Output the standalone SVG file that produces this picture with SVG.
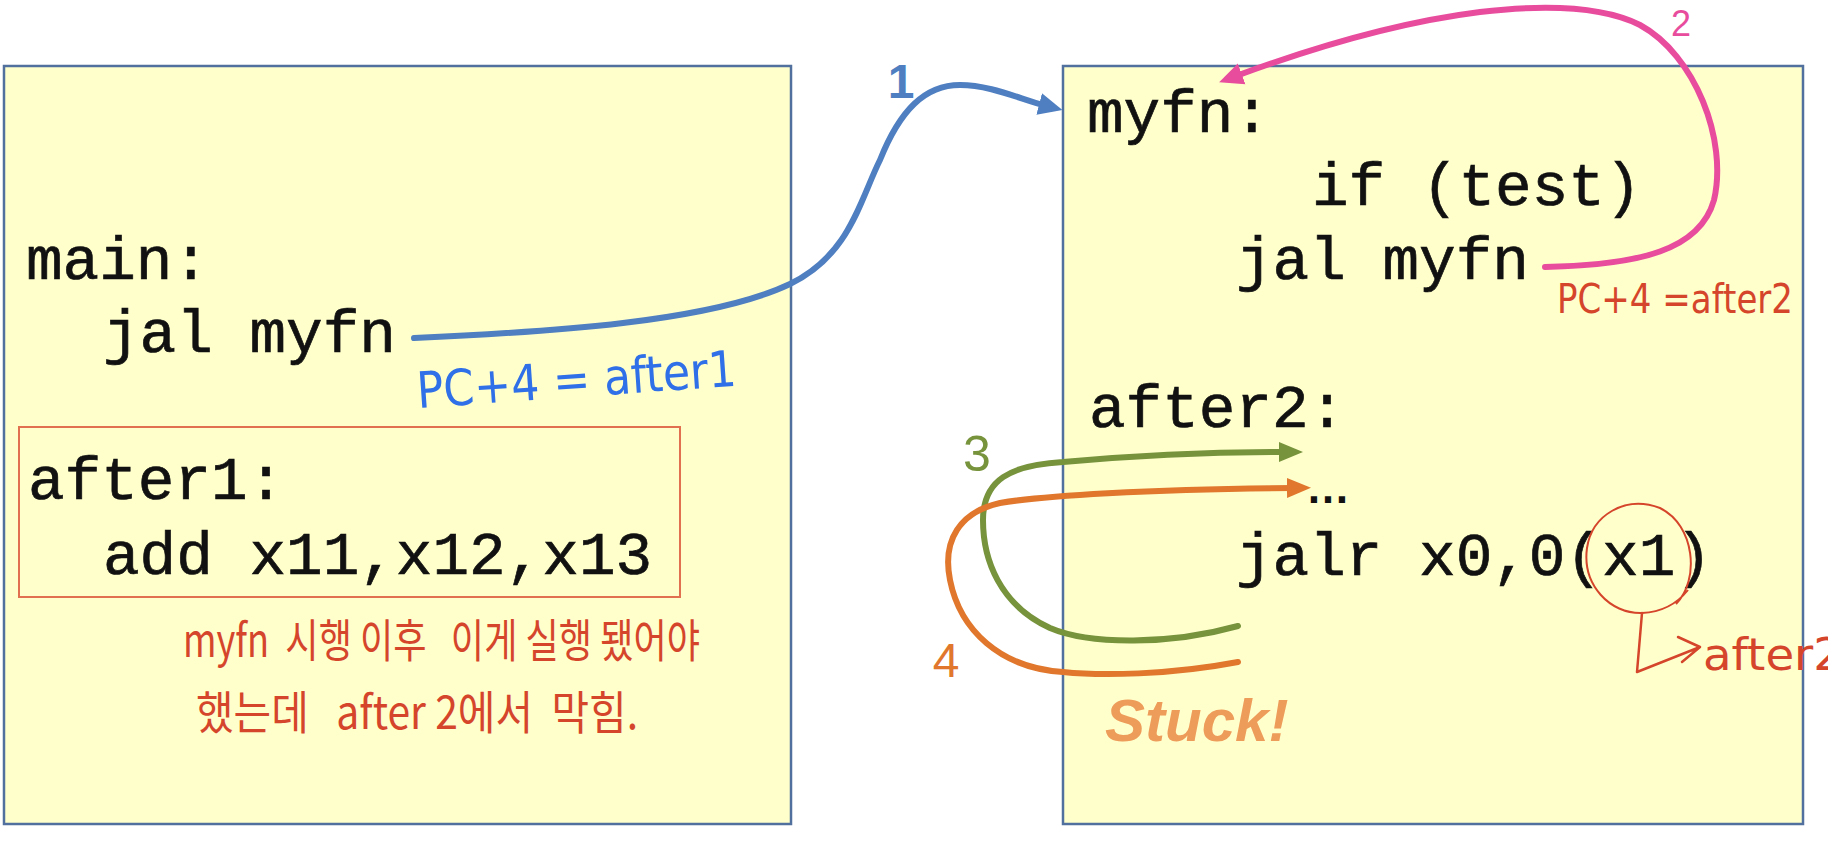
<svg xmlns="http://www.w3.org/2000/svg" width="1828" height="852" viewBox="0 0 1828 852">
<style>
.box{fill:#ffffcc;stroke:#52709e;stroke-width:2.5}
.code{font-family:"Liberation Mono","Courier New",monospace;font-size:61px;fill:#111;stroke:#111;stroke-width:0.7}
.conn{fill:none;stroke-width:6;stroke-linecap:round}
.num{font-family:"Liberation Sans",Arial,sans-serif;text-anchor:middle}
.hand{font-family:"Liberation Sans Narrow","DejaVu Sans Condensed","Liberation Sans",sans-serif;fill:#d5452b}
.kr{font-family:"Liberation Sans Narrow","Noto Sans CJK KR",sans-serif;fill:#d5452b;font-size:46px;white-space:pre}
</style>
<defs>
<marker id="ah-blue" markerUnits="userSpaceOnUse" markerWidth="26" markerHeight="24" refX="6" refY="12" orient="auto"><path d="M0,1 L24,12 L0,23 z" fill="#4f7fc0"/></marker>
<marker id="ah-pink" markerUnits="userSpaceOnUse" markerWidth="26" markerHeight="24" refX="6" refY="12" orient="auto"><path d="M0,1 L24,12 L0,23 z" fill="#e84c9d"/></marker>
<marker id="ah-green" markerUnits="userSpaceOnUse" markerWidth="26" markerHeight="24" refX="6" refY="12" orient="auto"><path d="M0,2 L24,12 L0,22 z" fill="#77933c"/></marker>
<marker id="ah-orange" markerUnits="userSpaceOnUse" markerWidth="26" markerHeight="24" refX="6" refY="12" orient="auto"><path d="M0,2 L24,12 L0,22 z" fill="#e0772c"/></marker>
</defs>
<rect width="1828" height="852" fill="#ffffff"/>

<g id="main-box">
<rect class="box" x="4" y="66" width="787" height="758"/>
<text class="code" x="26" y="279">main:</text>
<text class="code" x="103" y="352">jal myfn</text>
</g>

<g id="after1-box">
<rect x="19" y="427" width="661" height="170" fill="none" stroke="#e07050" stroke-width="2"/>
<text class="code" x="28" y="499">after1:</text>
<text class="code" x="103" y="574">add x11,x12,x13</text>
</g>

<g id="myfn-box">
<rect class="box" x="1063" y="66" width="740" height="758"/>
<text class="code" x="1087" y="132">myfn:</text>
<text class="code" x="1312" y="205">if (test)</text>
<text class="code" x="1236" y="279">jal myfn</text>
<text class="code" x="1089" y="427">after2:</text>
<text x="1306" y="503" font-family="Liberation Sans,Arial,sans-serif" font-weight="bold" font-size="44" fill="#111">…</text>
<text class="code" x="1236" y="575">jalr x0,0(x1)</text>
<text x="1105" y="741" font-family="Liberation Sans,Arial,sans-serif" font-weight="bold" font-style="italic" font-size="60" fill="#ee9c5a">Stuck!</text>
</g>

<g id="connectors">
<path class="conn" stroke="#4f7fc0" d="M414,338 C550,332 710,322 790,284 C850,255 860,200 880,160 C900,110 925,85 960,85 C990,85 1020,99 1045,105.5" marker-end="url(#ah-blue)"/>
<path class="conn" stroke="#e84c9d" d="M1545,267 C1640,265 1700,250 1714,200 C1728,140 1695,55 1640,25 C1600,5 1540,5 1480,12 C1400,22 1320,45 1236,76" marker-end="url(#ah-pink)"/>
<path class="conn" stroke="#77933c" d="M1238,626 C1170,645 1090,645 1050,628 C1000,605 983,560 983,520 C983,480 1010,465 1063,462 C1130,456 1200,452 1285,452" marker-end="url(#ah-green)"/>
<path class="conn" stroke="#e0772c" d="M1238,662 C1170,675 1100,676 1063,672 C1000,668 960,630 950,580 C942,540 960,512 1000,503 C1040,496 1150,489 1293,488" marker-end="url(#ah-orange)"/>
</g>

<g id="step-labels">
<text class="num" x="901" y="98" font-size="48" font-weight="bold" fill="#4f7fc0">1</text>
<text class="num" x="1681" y="36" font-size="36" fill="#e84c9d">2</text>
<text class="num" x="977" y="471" font-size="50" fill="#77933c">3</text>
<text class="num" x="946" y="677" font-size="48" fill="#e0772c">4</text>
</g>

<g id="annotations">
<text class="hand" x="418" y="408" font-size="50" style="fill:#2f6fe8" textLength="320" lengthAdjust="spacingAndGlyphs" transform="rotate(-4 418 408)">PC+4 = after1</text>
<text class="hand" x="1557" y="313" font-size="40" textLength="236" lengthAdjust="spacingAndGlyphs">PC+4 =after2</text>
<path d="M1676,604 C1700,580 1695,525 1660,508 C1625,495 1592,515 1587,548 C1582,585 1610,614 1642,613 C1665,612 1680,600 1688,590" fill="none" stroke="#d5452b" stroke-width="2"/>
<path d="M1642,613 L1637,672 L1700,647 M1678,637 L1700,647 L1682,662" fill="none" stroke="#d5452b" stroke-width="2.5" stroke-linecap="round" stroke-linejoin="round"/>
<text class="hand" x="1703" y="670" font-size="44" textLength="140" lengthAdjust="spacingAndGlyphs">after2</text>
<text class="kr" x="183" y="657" textLength="517" lengthAdjust="spacingAndGlyphs">myfn  시행 이후   이게 실행 됐어야</text>
<text class="kr" x="196" y="729" textLength="442" lengthAdjust="spacingAndGlyphs">했는데   after 2에서  막힘.</text>
</g>
</svg>
